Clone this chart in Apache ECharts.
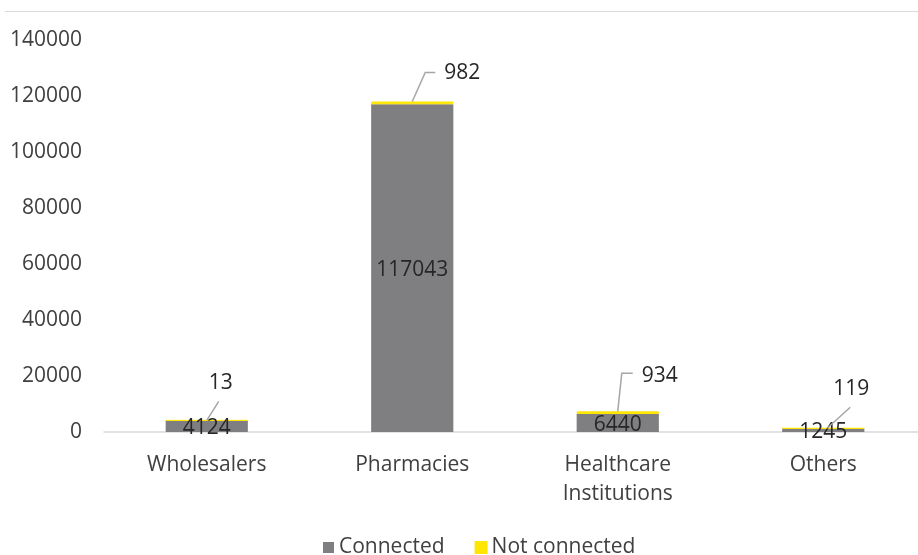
<!DOCTYPE html>
<html>
<head>
<meta charset="utf-8">
<script src="https://cdn.jsdelivr.net/npm/echarts@6/dist/echarts.min.js"></script>
<style>
  html, body { margin: 0; padding: 0; background: #ffffff; }
  #chart { width: 918px; height: 555px; }
</style>
</head>
<body>
<div id="chart"></div>
<script>
// Customer groups and their connection status
const categories = ['Wholesalers', 'Pharmacies', 'Healthcare\nInstitutions', 'Others'];
const connected = [4124, 117043, 6440, 1245];
const notConnected = [13, 982, 934, 119];
const seriesNames = ['Connected', 'Not connected'];

// Callout geometry for the "Not connected" values, in pixels relative to the top of each stack
const calloutLines = [
  [[0, 0], [12, -19]],
  [[0, 0], [13, -29], [23, -29]],
  [[0, 0], [4, -38], [15, -38]],
  [[4, 0], [27, -21]]
];
const calloutText = [
  { dx: 14, dy: -37, align: 'center' },
  { dx: 32, dy: -29, align: 'left' },
  { dx: 24, dy: -35, align: 'left' },
  { dx: 28, dy: -39, align: 'center' }
];

const FONT = '"Open Sans", "Liberation Sans", sans-serif';
const TEXT = '#404040';
const FS = 21;

// One entry per category: [index, stack total, not-connected value]
const calloutData = categories.map((c, i) => [i, connected[i] + notConnected[i], notConnected[i]]);

const chart = echarts.init(document.getElementById('chart'), null, { renderer: 'canvas' });

chart.setOption({
  animation: false,
  backgroundColor: '#ffffff',
  textStyle: { fontFamily: FONT },
  graphic: [{
    type: 'line',
    shape: { x1: 5, y1: 11.5, x2: 918, y2: 11.5 },
    style: { stroke: '#d9d9d9', lineWidth: 1 }
  }],
  grid: {
    left: 104, top: 40, bottom: 123, width: 822,
    containLabel: false,
    outerBoundsMode: 'none'
  },
  legend: {
    data: seriesNames,
    left: 318,
    top: 532,
    icon: 'rect',
    itemWidth: 11,
    itemHeight: 11,
    itemGap: 30,
    textStyle: { fontSize: FS, color: TEXT, fontFamily: FONT }
  },
  xAxis: {
    type: 'category',
    data: categories,
    axisLine: { lineStyle: { color: '#d9d9d9', width: 1.5 } },
    axisTick: { show: false },
    axisLabel: { fontSize: FS, color: TEXT, margin: 19, lineHeight: 29, fontFamily: FONT }
  },
  yAxis: {
    type: 'value',
    min: 0,
    max: 140000,
    interval: 20000,
    axisLine: { show: false },
    axisTick: { show: false },
    splitLine: { show: false },
    axisLabel: {
      fontSize: FS, color: TEXT, margin: 22, fontFamily: FONT,
      formatter: v => String(v)
    }
  },
  series: [
    {
      name: seriesNames[0],
      type: 'bar',
      stack: 'total',
      barWidth: '40%',
      data: connected,
      itemStyle: { color: '#7f7f82' },
      label: {
        show: true,
        position: 'inside',
        offset: [0, 2],
        fontSize: FS,
        color: '#262626',
        fontFamily: FONT
      }
    },
    {
      name: seriesNames[1],
      type: 'bar',
      stack: 'total',
      barWidth: '40%',
      data: notConnected,
      itemStyle: { color: '#ffe600', borderColor: '#ffe600', borderWidth: 1 }
    },
    {
      // leader lines and value labels for the thin "Not connected" segments
      type: 'custom',
      data: calloutData,
      z: 5,
      clip: false,
      silent: true,
      renderItem: function (params, api) {
        const i = api.value(0);
        const top = api.coord([i, api.value(1)]);
        const pts = calloutLines[i].map(p => [top[0] + p[0], top[1] + p[1]]);
        const t = calloutText[i];
        return {
          type: 'group',
          children: [
            {
              type: 'polyline',
              shape: { points: pts },
              style: { stroke: '#a6a6a6', lineWidth: 1.5, fill: null }
            },
            {
              type: 'text',
              style: {
                text: String(api.value(2)),
                x: top[0] + t.dx,
                y: top[1] + t.dy,
                align: t.align,
                verticalAlign: 'middle',
                fontSize: FS,
                fontFamily: FONT,
                fill: '#262626'
              }
            }
          ]
        };
      }
    }
  ]
});
</script>
</body>
</html>
